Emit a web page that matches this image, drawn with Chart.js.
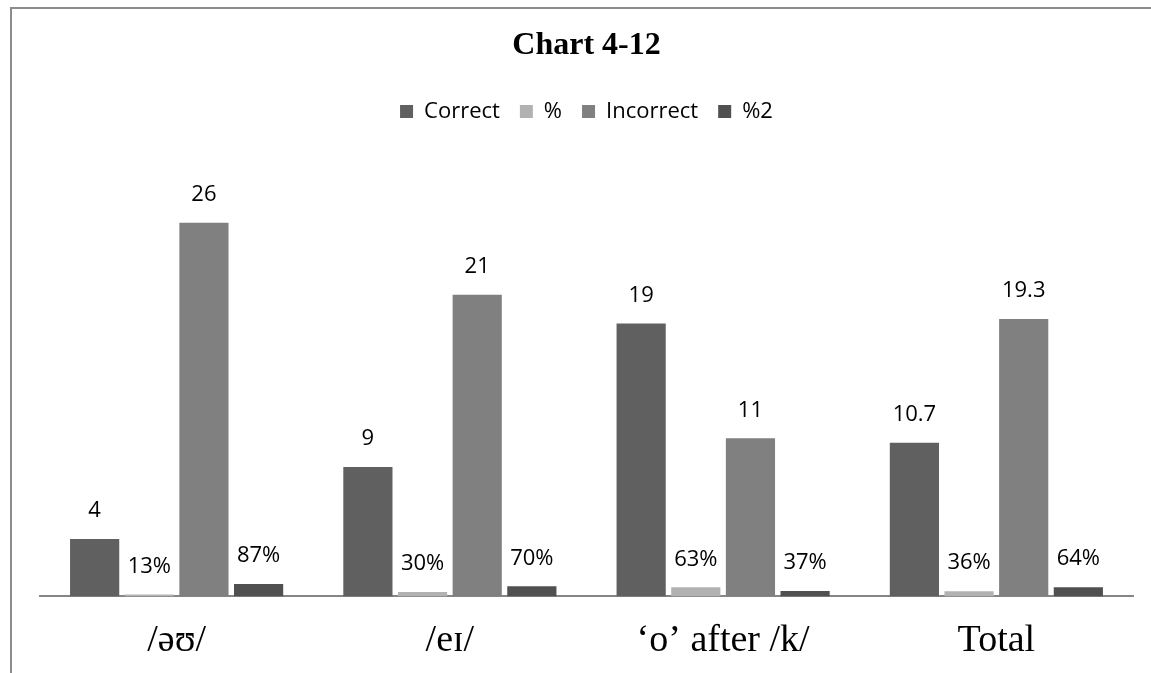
<!DOCTYPE html>
<html>
<head>
<meta charset="utf-8">
<script src="https://cdn.jsdelivr.net/npm/chart.js@4"></script>
<style>
  html, body { margin: 0; padding: 0; background: #fff; overflow: hidden; }
  #frame {
    position: absolute; left: 10px; top: 7px; width: 1160px; height: 700px;
    border-left: 2px solid #8c8c8c; border-top: 2px solid #8c8c8c;
  }
  #wrap { position: absolute; left: 0; top: 0; width: 1151px; height: 673px; }
</style>
</head>
<body>
<div id="frame"></div>
<div id="wrap"><canvas id="chart"></canvas></div>
<script>
// ---------------- Data ----------------
const CATEGORIES = ["/əʊ/", "/eɪ/", "‘o’ after /k/", "Total"];
const CORRECT = [4, 9, 19, 10.7];
const PCT = [0.13, 0.30, 0.63, 0.36];
const INCORRECT = [26, 21, 11, 19.3];
const PCT2 = [0.87, 0.70, 0.37, 0.64];
const SERIES_NAMES = ["Correct", "%", "Incorrect", "%2"];
const Y_MAX = 30;

const COLORS = ["#606060", "#b2b2b2", "#808080", "#505050"];

// value labels above each bar
const barLabels = {
  id: "barLabels",
  afterDatasetsDraw(chart) {
    const ctx = chart.ctx;
    ctx.save();
    ctx.font = "22px 'Open Sans', 'Noto Sans', sans-serif";
    ctx.fillStyle = "#000";
    ctx.textAlign = "center";
    ctx.textBaseline = "middle";
    chart.data.datasets.forEach((ds, i) => {
      chart.getDatasetMeta(i).data.forEach((bar, j) => {
        const v = ds.data[j];
        const txt = ds.isPct ? Math.round(v * 100) + "%" : String(v);
        ctx.fillText(txt, bar.x, bar.y - 28);
      });
    });
    ctx.restore();
  }
};

// extra room between legend and plot
const legendGap = {
  id: "legendGap",
  beforeInit(chart) {
    const fit = chart.legend.fit;
    chart.legend.fit = function () {
      fit.bind(chart.legend)();
      this.height += 33;
    };
  }
};

new Chart(document.getElementById("chart"), {
  type: "bar",
  data: {
    labels: CATEGORIES,
    datasets: [
      { label: SERIES_NAMES[0], data: CORRECT, backgroundColor: COLORS[0] },
      { label: SERIES_NAMES[1], data: PCT, backgroundColor: COLORS[1], isPct: true },
      { label: SERIES_NAMES[2], data: INCORRECT, backgroundColor: COLORS[2] },
      { label: SERIES_NAMES[3], data: PCT2, backgroundColor: COLORS[3], isPct: true }
    ]
  },
  options: {
    responsive: true,
    maintainAspectRatio: false,
    animation: false,
    layout: { padding: { left: 40, right: 18, top: 27, bottom: 9 } },
    plugins: {
      title: {
        display: true,
        text: "Chart 4-12",
        color: "#000",
        font: { family: "'Liberation Serif', 'Times New Roman', serif", size: 32, weight: "bold" },
        padding: { top: 0, bottom: 15 }
      },
      legend: {
        position: "top",
        labels: {
          color: "#000",
          boxWidth: 13, boxHeight: 13,
          padding: 20,
          font: { family: "'Open Sans', 'Noto Sans', sans-serif", size: 22 }
        }
      },
      tooltip: { enabled: false }
    },
    scales: {
      x: {
        grid: { display: false, drawTicks: false },
        border: { color: "#868686", width: 2 },
        ticks: {
          color: "#000",
          padding: 22,
          font: { family: "'Liberation Serif', 'Times New Roman', serif", size: 38 }
        },
        afterFit(scale) { scale.height -= 22; }
      },
      y: {
        display: false,
        min: 0,
        max: Y_MAX
      }
    }
  },
  plugins: [barLabels, legendGap]
});
</script>
</body>
</html>
